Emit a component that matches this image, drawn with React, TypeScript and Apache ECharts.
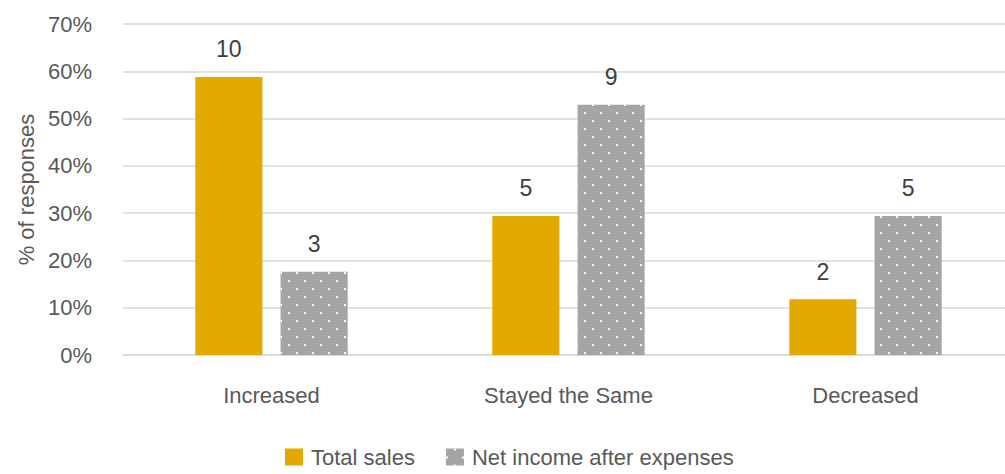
import React, { useEffect, useRef } from "react";
import * as echarts from "echarts";

const categories = ["Increased", "Stayed the Same", "Decreased"];
const seriesNames = ["Total sales", "Net income after expenses"];
// percent of responses (bar heights)
const totalSalesPct = [58.8, 29.4, 11.8];
const netIncomePct = [17.6, 52.9, 29.4];
// counts shown above bars
const totalSalesCount = [10, 5, 2];
const netIncomeCount = [3, 9, 5];
const yTicks = [0, 10, 20, 30, 40, 50, 60, 70];

const FONT = "'Liberation Sans Narrow', 'Liberation Sans', Arial, sans-serif";
const FS = 22;

export default function App() {
  const ref = useRef<HTMLDivElement>(null);
  useEffect(() => {
    if (!ref.current) return;
    const chart = echarts.init(ref.current, undefined, { renderer: "svg" });
    const mkLabel = (counts: number[]) => ({
      show: true,
      position: "top",
      distance: 16,
      color: "#404040",
      fontFamily: FONT,
      fontSize: 23,
      formatter: (p: any) => String(counts[p.dataIndex]),
    });
    chart.setOption({
      animation: false,
      backgroundColor: "#ffffff",
      textStyle: { fontFamily: FONT },
      grid: {
        left: 123,
        right: -9,
        top: 24,
        bottom: 119,
        containLabel: false,
        outerBoundsMode: "none",
      },
      legend: {
        left: 280,
        top: 441,
        itemWidth: 18,
        itemHeight: 17,
        itemGap: 31,
        icon: "rect",
        textStyle: { color: "#595959", fontSize: FS, fontFamily: FONT, padding: [0, 0, 0, 3] },
        data: seriesNames,
      },
      xAxis: {
        type: "category",
        data: categories,
        axisLine: { show: true, lineStyle: { color: "#d9d9d9", width: 1.5 } },
        axisTick: { show: false },
        axisLabel: { color: "#595959", fontSize: FS, fontFamily: FONT, margin: 29 },
      },
      yAxis: {
        type: "value",
        min: yTicks[0],
        max: yTicks[yTicks.length - 1],
        interval: 10,
        name: "% of responses",
        nameLocation: "middle",
        nameGap: 83,
        nameRotate: 90,
        nameTextStyle: { color: "#595959", fontSize: FS, fontFamily: FONT },
        axisLine: { show: false },
        axisTick: { show: false },
        axisLabel: {
          color: "#595959",
          fontSize: FS,
          fontFamily: FONT,
          margin: 31,
          formatter: (v: number) => v + "%",
        },
        splitLine: { lineStyle: { color: "#d9d9d9", width: 1.5 } },
      },
      series: [
        {
          name: seriesNames[0],
          type: "bar",
          data: totalSalesPct,
          barWidth: "22.6%",
          barGap: "27%",
          itemStyle: { color: "#E2AA00" },
          label: mkLabel(totalSalesCount),
        },
        {
          name: seriesNames[1],
          type: "bar",
          data: netIncomePct,
          barWidth: "22.6%",
          itemStyle: {
            color: "#A5A5A5",
            decal: {
              symbol: "rect",
              symbolSize: 1,
              color: "#ffffff",
              dashArrayX: [
                [2, 14],
                [0, 8, 2, 6],
              ],
              dashArrayY: [2, 6],
              rotation: 0,
            },
          },
          label: mkLabel(netIncomeCount),
        },
      ],
    });
    return () => chart.dispose();
  }, []);
  return (
    <div
      ref={ref}
      style={{ position: "absolute", left: 0, top: 0, width: 1005, height: 474 }}
    />
  );
}
